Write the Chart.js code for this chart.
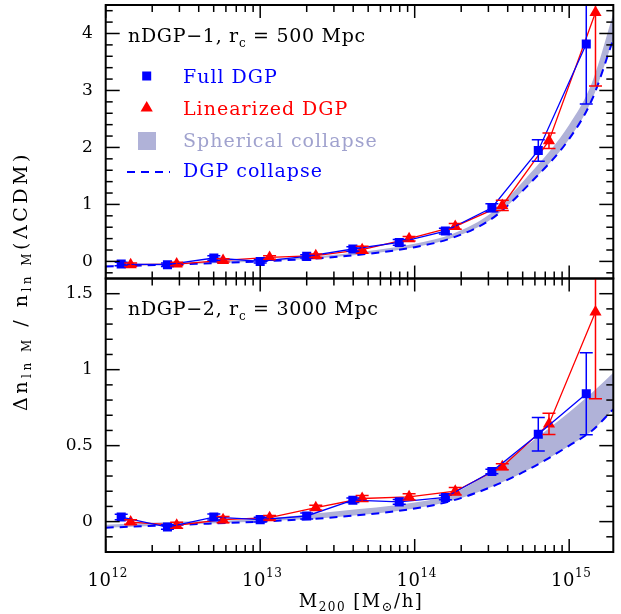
<!DOCTYPE html>
<html>
<head>
<meta charset="utf-8">
<script src="https://cdn.jsdelivr.net/npm/chart.js@4.4.1/dist/chart.umd.min.js"></script>
<style>
  html, body { margin: 0; padding: 0; background: #fff; }
  #wrap { position: relative; width: 621px; height: 614px; }
  #wrap canvas { position: absolute; left: 0; top: 0; }
</style>
</head>
<body>
<div id="wrap">
  <canvas id="topChart" width="621" height="614"></canvas>
  <canvas id="bottomChart" width="621" height="614"></canvas>
</div>
<script>
// halo mass bins (M200 in Msun/h)
const massFull = [1.26e12, 2.51e12, 5.01e12, 1.0e13, 2.0e13, 3.98e13, 7.94e13, 1.58e14, 3.16e14, 6.31e14, 1.29e15];
const massLin  = [1.45e12, 2.88e12, 5.75e12, 1.15e13, 2.29e13, 4.57e13, 9.2e13, 1.83e14, 3.69e14, 7.4e14, 1.48e15];

// nDGP-1, rc = 500 Mpc
const fullTop    = [-0.046, -0.058, 0.06, 0.0, 0.088, 0.218, 0.333, 0.533, 0.942, 1.947, 3.814];
const fullTopErr = [0.03, 0.03, 0.04, 0.03, 0.03, 0.04, 0.05, 0.05, 0.07, 0.19, 1.05];
const linTop     = [-0.058, -0.046, 0.018, 0.07, 0.1, 0.205, 0.398, 0.614, 0.982, 2.118, 4.37];
const linTopErr  = [0.03, 0.03, 0.03, 0.03, 0.03, 0.06, 0.04, 0.05, 0.09, 0.135, 1.29];

// nDGP-2, rc = 3000 Mpc
const fullBot    = [0.030, -0.036, 0.030, 0.013, 0.037, 0.141, 0.130, 0.159, 0.330, 0.575, 0.841];
const fullBotErr = [0.018, 0.015, 0.02, 0.015, 0.02, 0.015, 0.015, 0.015, 0.015, 0.11, 0.27];
const linBot     = [-0.003, -0.024, 0.013, 0.026, 0.092, 0.152, 0.163, 0.200, 0.361, 0.643, 1.379];
const linBotErr  = [0.015, 0.02, 0.02, 0.015, 0.015, 0.02, 0.02, 0.025, 0.02, 0.07, 0.57];

// theory curves
const massCurve  = [1e12, 3.16e12, 1e13, 3.16e13, 1e14, 1.78e14, 3.16e14, 5.62e14, 1e15, 1.41e15, 1.93e15];
const sphTopHi   = [-0.07, -0.02, 0.03, 0.12, 0.31, 0.49, 0.86, 1.55, 2.4, 3.15, 4.35];
const dgpTop     = [-0.09, -0.05, 0.0, 0.08, 0.25, 0.42, 0.75, 1.38, 2.15, 2.85, 3.9];
const sphBotHi   = [-0.02, 0.0, 0.018, 0.068, 0.125, 0.185, 0.34, 0.52, 0.72, 0.85, 0.98];
const dgpBot     = [-0.04, -0.02, 0.0, 0.03, 0.086, 0.14, 0.23, 0.35, 0.5, 0.6, 0.74];

const yTicksTop = [0, 1, 2, 3, 4];
const yTicksBot = [0, 0.5, 1, 1.5];
const xDecades = [12, 13, 14, 15];

const BLUE = '#0000ff', RED = '#ff0000', BAND = 'rgb(176,178,216)';
const SERIF = '"DejaVu Serif", "Liberation Serif", serif';
Chart.defaults.font.family = SERIF;
Chart.defaults.color = '#000';

const pts = (xs, ys) => xs.map((x, i) => ({x: x, y: ys[i]}));

function makeDatasets(full, fullErr, lin, linErr, sph, dgp) {
  return [
    {data: pts(massFull, full), errors: fullErr, showLine: true, borderColor: BLUE, backgroundColor: BLUE,
     borderWidth: 1.3, pointStyle: 'rect', pointRadius: 6.4, pointBorderWidth: 0},
    {data: pts(massLin, lin), errors: linErr, showLine: true, borderColor: RED, backgroundColor: RED,
     borderWidth: 1.3, pointStyle: 'triangle', pointRadius: 7, pointBorderWidth: 0},
    {data: pts(massCurve, dgp), showLine: true, borderColor: BLUE, borderWidth: 2, borderDash: [8, 6],
     pointRadius: 0, cubicInterpolationMode: 'monotone', fill: false},
    {data: pts(massCurve, sph), showLine: true, borderColor: 'rgba(0,0,0,0)', borderWidth: 0,
     backgroundColor: BAND, pointRadius: 0, cubicInterpolationMode: 'monotone', fill: 2}
  ];
}

function line(ctx, x1, y1, x2, y2) {
  ctx.beginPath(); ctx.moveTo(x1, y1); ctx.lineTo(x2, y2); ctx.stroke();
}

// frame with inward ticks on all four sides
const frame = {
  id: 'frame',
  afterDraw(chart, args, opts) {
    const {ctx, chartArea: a, scales: {x, y}} = chart;
    ctx.save();
    ctx.strokeStyle = '#000';
    ctx.lineWidth = 1.5;
    xDecades.forEach(e => {
      for (let k = 1; k <= 9; k++) {
        const v = k * Math.pow(10, e);
        if (v < x.min || v > x.max) continue;
        const px = x.getPixelForValue(v);
        const len = k === 1 ? 13 : 7;
        line(ctx, px, a.bottom, px, a.bottom - len);
        line(ctx, px, a.top, px, a.top + len);
      }
    });
    const n = Math.round((y.max - y.min) / opts.minor);
    for (let i = 0; i <= n; i++) {
      const v = +(Math.ceil(y.min / opts.minor) * opts.minor + i * opts.minor).toFixed(4);
      if (v <= y.min || v >= y.max) continue;
      const py = y.getPixelForValue(v);
      const major = Math.abs(v / opts.major - Math.round(v / opts.major)) < 1e-6;
      const len = major ? 14 : 7;
      line(ctx, a.left, py, a.left + len, py);
      line(ctx, a.right, py, a.right - len, py);
    }
    ctx.lineWidth = 2;
    ctx.strokeRect(a.left, a.top, a.width, a.height);
    ctx.restore();
  }
};

const errorBars = {
  id: 'errorBars',
  afterDatasetsDraw(chart) {
    const {ctx, chartArea: a, scales: {x, y}} = chart;
    ctx.save();
    ctx.beginPath(); ctx.rect(a.left, a.top, a.width, a.height); ctx.clip();
    chart.data.datasets.forEach(ds => {
      if (!ds.errors) return;
      ctx.strokeStyle = ds.borderColor;
      ctx.lineWidth = 1.5;
      ds.data.forEach((p, i) => {
        const px = x.getPixelForValue(p.x);
        const lo = y.getPixelForValue(p.y - ds.errors[i]);
        const hi = y.getPixelForValue(p.y + ds.errors[i]);
        line(ctx, px, lo, px, hi);
        line(ctx, px - 6.5, lo, px + 6.5, lo);
        line(ctx, px - 6.5, hi, px + 6.5, hi);
      });
    });
    ctx.restore();
  }
};

// draws a run of [text, size, dy] pieces starting at x, baseline y
function drawRun(ctx, pieces, x, y, color, sp) {
  ctx.fillStyle = color;
  ctx.textBaseline = 'alphabetic';
  ctx.textAlign = 'left';
  ctx.letterSpacing = (sp || 0) + 'px';
  pieces.forEach(([t, size, dy]) => {
    ctx.font = size + 'px ' + SERIF;
    ctx.fillText(t, x, y + dy);
    x += ctx.measureText(t).width;
  });
  ctx.letterSpacing = '0px';
  return x;
}
function runWidth(ctx, pieces, sp) {
  let w = 0;
  ctx.letterSpacing = (sp || 0) + 'px';
  pieces.forEach(([t, size]) => { ctx.font = size + 'px ' + SERIF; w += ctx.measureText(t).width; });
  ctx.letterSpacing = '0px';
  return w;
}

const labels = {
  id: 'labels',
  afterDraw(chart, args, opts) {
    const ctx = chart.ctx;
    ctx.save();
    drawRun(ctx, [[opts.title, 19, 0], ['c', 12, 5], [opts.rest, 19, 0]], 128, opts.titleY, '#000', 0.7);
    if (opts.legend) {
      ctx.fillStyle = BLUE;
      ctx.fillRect(142.2, 71.5, 9, 9);
      ctx.fillStyle = RED;
      ctx.beginPath();
      ctx.moveTo(146.7, 101); ctx.lineTo(152.8, 111.5); ctx.lineTo(140.6, 111.5); ctx.closePath(); ctx.fill();
      ctx.fillStyle = BAND;
      ctx.fillRect(138, 132, 18, 18);
      ctx.strokeStyle = BLUE; ctx.lineWidth = 2; ctx.setLineDash([8, 6]);
      line(ctx, 127, 172, 170, 172);
      ctx.setLineDash([]);
      drawRun(ctx, [['Full DGP', 19, 0]], 183, 83, BLUE, 1);
      drawRun(ctx, [['Linearized DGP', 19, 0]], 183, 115, RED, 1);
      drawRun(ctx, [['Spherical collapse', 19, 0]], 183, 147, 'rgb(160,162,206)', 1);
      drawRun(ctx, [['DGP collapse', 19, 0]], 183, 177, BLUE, 1);
    }
    if (opts.axes) {
      const x = chart.scales.x;
      xDecades.forEach(e => {
        const px = x.getPixelForValue(Math.pow(10, e));
        const p = [['10', 18, 0], [String(e), 12, -9]];
        drawRun(ctx, p, px - runWidth(ctx, p, 0.5) / 2 + 2, 586, '#000', 0.5);
      });
      const xt = [['M', 18, 0], ['200', 12, 4], [' [M', 18, 0], ['\u2299', 13, 4], ['/h]', 18, 0]];
      drawRun(ctx, xt, 361 - runWidth(ctx, xt, 1.5) / 2, 607, '#000', 1.5);
      const yt = [['\u0394n', 19, 0], ['ln M', 12, 4], [' / n', 19, 0], ['ln M', 12, 4], ['(\u039BCDM)', 19, 0]];
      ctx.translate(27, 281);
      ctx.rotate(-Math.PI / 2);
      drawRun(ctx, yt, -runWidth(ctx, yt, 3.5) / 2, 0, '#000', 3.5);
    }
    ctx.restore();
  }
};

function yScale(min, max, ticks) {
  return {
    min: min, max: max,
    afterFit: s => { s.width = 105.7; s.paddingTop = 0; s.paddingBottom = 0; },
    afterBuildTicks: s => { s.ticks = ticks.map(v => ({value: v})); },
    grid: {display: false, drawTicks: false}, border: {display: false},
    ticks: {padding: 13, color: '#000', font: {size: 17, family: SERIF}, callback: v => String(v)}
  };
}

new Chart(document.getElementById('topChart'), {
  type: 'scatter',
  data: {datasets: makeDatasets(fullTop, fullTopErr, linTop, linTopErr, sphTopHi, dgpTop)},
  options: {
    responsive: false, animation: false,
    layout: {autoPadding: false, padding: {left: 0, right: 7.7, top: 5, bottom: 335.5}},
    plugins: {
      legend: {display: false}, tooltip: {enabled: false},
      frame: {minor: 0.2, major: 1},
      labels: {title: 'nDGP\u22121, r', rest: ' = 500 Mpc', titleY: 42, legend: true}
    },
    scales: {
      x: {type: 'logarithmic', min: 1e12, max: 1.93e15, display: false},
      y: yScale(-0.3, 4.5, yTicksTop)
    }
  },
  plugins: [frame, errorBars, labels]
});

new Chart(document.getElementById('bottomChart'), {
  type: 'scatter',
  data: {datasets: makeDatasets(fullBot, fullBotErr, linBot, linBotErr, sphBotHi, dgpBot)},
  options: {
    responsive: false, animation: false,
    layout: {autoPadding: false, padding: {left: 0, right: 7.7, top: 278.5, bottom: 0}},
    plugins: {
      legend: {display: false}, tooltip: {enabled: false},
      frame: {minor: 0.1, major: 0.5},
      labels: {title: 'nDGP\u22122, r', rest: ' = 3000 Mpc', titleY: 315, axes: true}
    },
    scales: {
      x: {type: 'logarithmic', min: 1e12, max: 1.93e15,
          grid: {display: false, drawTicks: false}, border: {display: false}, ticks: {display: false},
          afterFit: s => { s.height = 62; }},
      y: yScale(-0.2, 1.6, yTicksBot)
    }
  },
  plugins: [frame, errorBars, labels]
});
</script>
</body>
</html>
